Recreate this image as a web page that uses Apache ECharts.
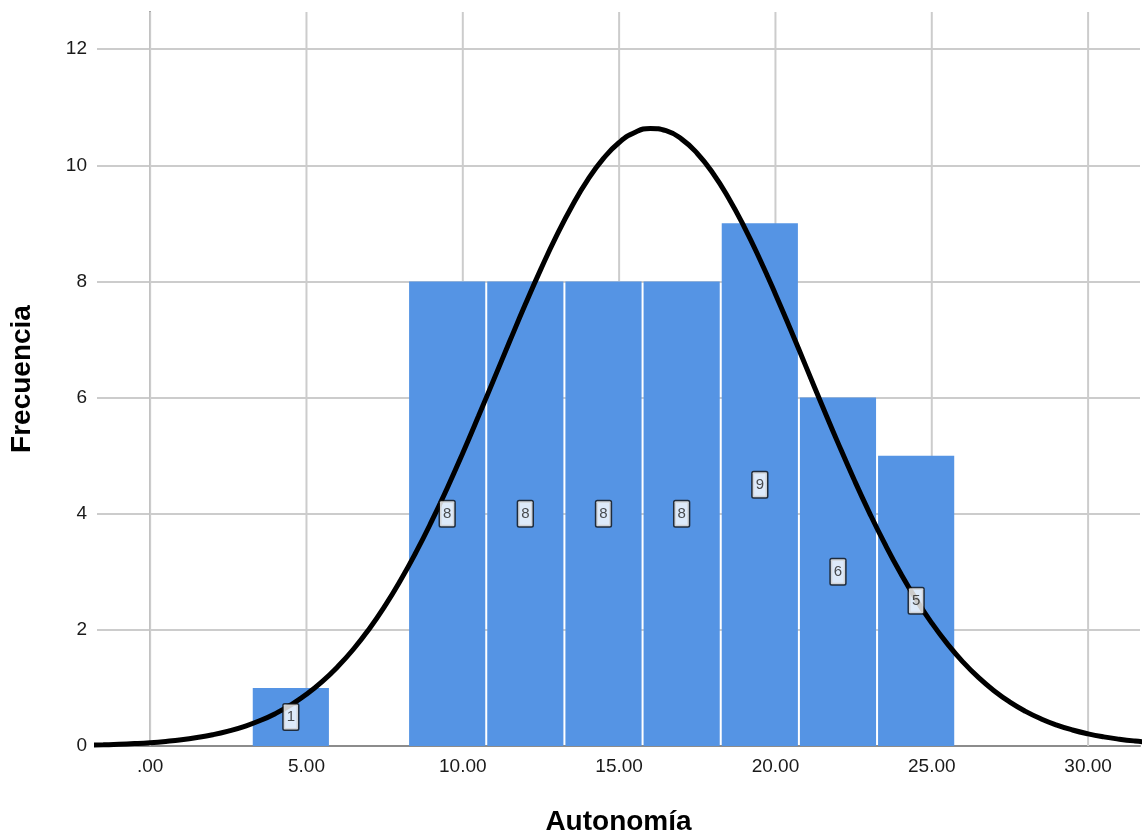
<!DOCTYPE html>
<html>
<head>
<meta charset="utf-8">
<script src="https://cdn.jsdelivr.net/npm/echarts@6/dist/echarts.min.js"></script>
<style>html,body{margin:0;padding:0;background:#fff;}#c{width:1142px;height:833px;}</style>
</head>
<body>
<div id="c"></div>
<script>
// Histogram bins (lower edges), bin width and frequencies
var binLower = [3.25, 5.75, 8.25, 10.75, 13.25, 15.75, 18.25, 20.75, 23.25];
var binWidth = 2.5;
var freq = [1, 0, 8, 8, 8, 8, 9, 6, 5];
// x tick labels / y tick labels
var xTicks = [0, 5, 10, 15, 20, 25, 30];
var xTickLabels = ['.00', '5.00', '10.00', '15.00', '20.00', '25.00', '30.00'];
var yTicks = [0, 2, 4, 6, 8, 10, 12];
// Normal curve
var curveX = [-2,-1.5,-1,-0.5,0,0.5,1,1.5,2,2.5,3,3.5,4,4.5,5,5.5,6,6.5,7,7.5,8,8.5,9,9.5,10,10.5,11,11.5,12,12.5,13,13.5,14,14.5,15,15.5,16,16.5,17,17.5,18,18.5,19,19.5,20,20.5,21,21.5,22,22.5,23,23.5,24,24.5,25,25.5,26,26.5,27,27.5,28,28.5,29,29.5,30,30.5,31,31.5,32];
var curveY = [0.014,0.021,0.029,0.041,0.057,0.079,0.107,0.145,0.193,0.256,0.335,0.434,0.557,0.708,0.89,1.108,1.366,1.666,2.012,2.405,2.846,3.334,3.867,4.44,5.045,5.677,6.322,6.969,7.606,8.217,8.789,9.304,9.752,10.118,10.393,10.566,10.635,10.596,10.451,10.204,9.864,9.437,8.94,8.382,7.781,7.15,6.503,5.856,5.22,4.606,4.024,3.479,2.978,2.524,2.117,1.758,1.445,1.176,0.948,0.756,0.597,0.466,0.361,0.276,0.209,0.157,0.117,0.086,0.063];

var barData = binLower.map(function (b, i) { return [b, b + binWidth, freq[i]]; });
var labelData = [];
binLower.forEach(function (b, i) { if (freq[i] > 0) labelData.push([b + binWidth / 2, freq[i] / 2, freq[i]]); });
var curveData = curveX.map(function (x, i) { return [x, curveY[i]]; });

var chart = echarts.init(document.getElementById('c'), null, {renderer: 'canvas'});
var FONT = 'Liberation Sans, Arial, sans-serif';
chart.setOption({
  animation: false,
  backgroundColor: '#fff',
  grid: {left: 97, right: 2, top: 12, bottom: 87, containLabel: false, outerBoundsMode: 'none'},
  xAxis: {
    type: 'value', min: -1.7, max: 31.66,
    name: 'Autonomía', nameLocation: 'middle', nameGap: 62,
    nameTextStyle: {fontFamily: FONT, fontSize: 28, fontWeight: 'bold', color: '#000'},
    axisLine: {show: true, onZero: false, lineStyle: {color: '#8c8c8c', width: 2}},
    axisTick: {show: false},
    splitLine: {show: false},
    axisLabel: {
      customValues: xTicks,
      formatter: function (v) { var i = xTicks.indexOf(v); return i >= 0 ? xTickLabels[i] : ''; },
      fontFamily: FONT, fontSize: 19, color: '#1a1a1a', margin: 11
    }
  },
  yAxis: {
    type: 'value', min: 0, max: 12.64, interval: 2,
    name: 'Frecuencia', nameLocation: 'middle', nameGap: 61,
    nameTextStyle: {fontFamily: FONT, fontSize: 28, fontWeight: 'bold', color: '#000'},
    axisLine: {show: true, lineStyle: {color: '#8c8c8c', width: 2}},
    axisTick: {show: false},
    splitLine: {show: true, showMaxLine: false, showMinLine: false, lineStyle: {color: '#cccccc', width: 2}},
    axisLabel: {customValues: yTicks, fontFamily: FONT, fontSize: 19, color: '#1a1a1a', margin: 10}
  },
  series: [
    {
      type: 'custom', z: 1, silent: true,
      data: xTicks.map(function (v) { return [v]; }),
      encode: {x: 0},
      renderItem: function (params, api) {
        var x = api.value(0);
        var top = api.coord([x, 12.64]);
        var bot = api.coord([x, 0]);
        return {type: 'line', shape: {x1: top[0], y1: top[1], x2: bot[0], y2: bot[1]}, style: {stroke: '#cccccc', lineWidth: 2}};
      }
    },
    {
      type: 'custom', z: 2, silent: true,
      data: barData,
      encode: {x: [0, 1], y: 2},
      renderItem: function (params, api) {
        var y = api.value(2);
        if (!y) return null;
        var p0 = api.coord([api.value(0), y]);
        var p1 = api.coord([api.value(1), 0]);
        return {type: 'rect', shape: {x: p0[0] + 1, y: p0[1], width: p1[0] - p0[0] - 2, height: p1[1] - p0[1]},
          style: {fill: '#5594e4'}};
      }
    },
    {
      type: 'line', z: 3, smooth: true, symbol: 'none', silent: true,
      data: curveData,
      lineStyle: {color: '#000', width: 5}
    },
    {
      type: 'scatter', z: 4, symbolSize: 0, silent: true,
      data: labelData,
      label: {
        show: true, position: 'inside',
        formatter: function (p) { return String(p.value[2]); },
        fontFamily: FONT, fontSize: 15, color: '#222',
        backgroundColor: '#ffffff', borderColor: '#111', borderWidth: 1.5, borderRadius: 1,
        padding: [5, 3, 5, 3]
      }
    }
  ]
});
</script>
</body>
</html>
